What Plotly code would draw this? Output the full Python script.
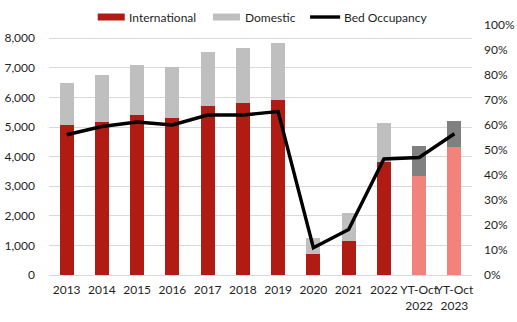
import plotly.graph_objects as go

categories = ["2013", "2014", "2015", "2016", "2017", "2018", "2019", "2020", "2021", "2022",
              "YT-Oct<br>2022", "YT-Oct<br>2023"]
international = [5080, 5180, 5410, 5310, 5720, 5820, 5930, 725, 1165, 3835, 3330, 4310]
domestic_total = [6500, 6760, 7100, 7030, 7540, 7670, 7850, 1265, 2110, 5150, 4345, 5220]
domestic = [t - i for t, i in zip(domestic_total, international)]
occupancy = [0.561, 0.594, 0.612, 0.600, 0.640, 0.640, 0.654, 0.109, 0.182, 0.464, 0.470, 0.565]

left_ticks = [0, 1000, 2000, 3000, 4000, 5000, 6000, 7000, 8000]
right_ticks = [0, 0.1, 0.2, 0.3, 0.4, 0.5, 0.6, 0.7, 0.8, 0.9, 1.0]

RED, PINK = "#B01C14", "#F1837A"
LGRAY, DGRAY = "#BFBFBF", "#808080"
int_colors = [RED] * 10 + [PINK] * 2
dom_colors = [LGRAY] * 10 + [DGRAY] * 2

FONT = "Lato"
TXT = "#1F1F1F"

fig = go.Figure()
fig.add_trace(go.Bar(x=categories, y=international, name="International",
                     marker=dict(color=int_colors, line=dict(width=0)), width=0.4,
                     showlegend=False))
fig.add_trace(go.Bar(x=categories, y=domestic, name="Domestic",
                     marker=dict(color=dom_colors, line=dict(width=0)), width=0.4,
                     showlegend=False))
fig.add_trace(go.Scatter(x=categories, y=occupancy, name="Bed Occupancy", yaxis="y2",
                         mode="lines", line=dict(color="black", width=3.4),
                         showlegend=False))

# plot area: x 49.4..471.6 px, y 25..275.5 px
L, R, T, B = 49.4, 471.6, 25.0, 275.5
W, H = 517, 322
pw, ph = R - L, B - T


def px(x):
    return (x - L) / pw


def py(y):
    return (B - y) / ph


shapes = [
    dict(type="rect", xref="paper", yref="paper", x0=px(98), x1=px(125), y0=py(20.5), y1=py(13.5),
         fillcolor=RED, line=dict(width=0)),
    dict(type="rect", xref="paper", yref="paper", x0=px(213), x1=px(240), y0=py(20.5), y1=py(13.5),
         fillcolor=LGRAY, line=dict(width=0)),
    dict(type="line", xref="paper", yref="paper", x0=px(310), x1=px(340), y0=py(17), y1=py(17),
         line=dict(color="black", width=3.4)),
]
annotations = [
    dict(text=t, xref="paper", yref="paper", x=px(x0), y=py(17), xanchor="left", yanchor="middle",
         showarrow=False, font=dict(family=FONT, size=12, color=TXT))
    for t, x0 in [("International", 127), ("Domestic", 243), ("Bed Occupancy", 342)]
]

fig.update_layout(
    width=W, height=H,
    margin=dict(l=L, r=W - R, t=T, b=H - B, pad=0, autoexpand=False),
    paper_bgcolor="white", plot_bgcolor="white",
    barmode="stack",
    font=dict(family=FONT, size=12, color=TXT),
    shapes=shapes, annotations=annotations,
    xaxis=dict(type="category", showgrid=False, showline=False, ticks="", tickangle=0,
               automargin=False,
               tickfont=dict(family=FONT, size=12, color=TXT), ticklabelstandoff=6),
    yaxis=dict(range=[0, 8000 * ph / 237.2], tickvals=left_ticks, tickformat=",d",
               showgrid=True, gridcolor="#D9D9D9", gridwidth=1, zeroline=True, automargin=False,
               zerolinecolor="#D9D9D9", zerolinewidth=1, showline=False, ticks="",
               ticklabelstandoff=13, tickfont=dict(family=FONT, size=12, color=TXT)),
    yaxis2=dict(overlaying="y", side="right", range=[0, 1], tickvals=right_ticks,
                tickformat=".0%", showgrid=False, zeroline=False, showline=False, ticks="",
                automargin=False,
                ticklabelstandoff=11, tickfont=dict(family=FONT, size=12, color=TXT)),
)

fig.write_html("out.html")
